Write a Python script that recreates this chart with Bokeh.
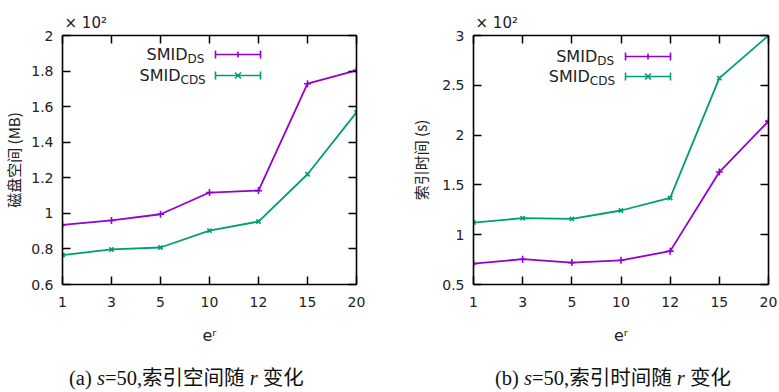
from bokeh.plotting import figure
from bokeh.models import (Range1d, FixedTicker, LinearAxis, Label, Arrow, TeeHead,
                          CustomJSTickFormatter, Title, Div)
from bokeh.layouts import row, column
from bokeh.embed import file_html
from bokeh.resources import INLINE

# ---------------- data ----------------
x_labels = ["1", "3", "5", "10", "12", "15", "20"]
space_ds = [0.935, 0.960, 0.995, 1.117, 1.128, 1.729, 1.804]
space_cds = [0.765, 0.797, 0.808, 0.903, 0.954, 1.220, 1.568]
time_ds = [0.710, 0.754, 0.720, 0.743, 0.835, 1.629, 2.140]
time_cds = [1.122, 1.166, 1.159, 1.243, 1.369, 2.572, 3.000]
space_ticks = [0.6, 0.8, 1.0, 1.2, 1.4, 1.6, 1.8, 2.0]
time_ticks = [0.5, 1.0, 1.5, 2.0, 2.5, 3.0]
series_names = [("SMID", "DS"), ("SMID", "CDS")]
captions = ['(a) <i>s</i>=50,索引空间随 <i>r</i> 变化',
            '(b) <i>s</i>=50,索引时间随 <i>r</i> 变化']

PURPLE = "#9400D3"
GREEN = "#009E73"
H = 356
TOP = 35
BOTTOM = 284
TICK_FONT = "DejaVu Sans"
CJK = "Noto Sans CJK SC"


class Panel:
    def __init__(self, bl):
        self.bl = bl
        self.p = None

    # screen units are relative to the frame's bottom-left corner
    def X(self, x):
        return x - self.bl

    def Y(self, y):
        return BOTTOM - y


def lab(P, x, y, text, size, align="left"):
    P.p.add_layout(Label(x=P.X(x), y=P.Y(y), x_units="screen", y_units="screen", text=text,
                         text_font=TICK_FONT, text_font_size=f"{size}px", text_align=align,
                         text_baseline="middle", text_color="#222222"))


def seg(P, x0, y0, x1, y1, color, heads=False, lw=1.6):
    kw = {}
    if heads:
        kw["start"] = TeeHead(size=8, line_color=color, line_width=lw)
        kw["end"] = TeeHead(size=8, line_color=color, line_width=lw)
    else:
        kw["end"] = None
    P.p.add_layout(Arrow(x_start=P.X(x0), y_start=P.Y(y0), x_end=P.X(x1), y_end=P.Y(y1),
                         start_units="screen", end_units="screen",
                         line_color=color, line_width=lw, **kw))


def panel(width, bl, br, y_start, y_end, ticks, ds, cds, ylabel, ylab_standoff, leg):
    P = Panel(bl)
    p = figure(width=width, height=H, output_backend="svg", toolbar_location=None,
               x_range=Range1d(0, len(x_labels) - 1), y_range=Range1d(y_start, y_end),
               min_border_left=bl, min_border_right=br, min_border_top=TOP,
               min_border_bottom=H - BOTTOM, background_fill_color="white",
               border_fill_color="white", outline_line_color=None)
    P.p = p
    p.grid.visible = False
    xt = FixedTicker(ticks=list(range(len(x_labels))))
    yt = FixedTicker(ticks=ticks)
    fmt_x = CustomJSTickFormatter(args=dict(labels=x_labels),
                                  code="return labels[Math.round(tick)];")
    fmt_y = CustomJSTickFormatter(code="return String(Number(tick.toFixed(2)));")
    blank = CustomJSTickFormatter(code="return '';")
    xa = p.below[0]
    ya = p.left[0]
    xa.ticker = xt
    xa.formatter = fmt_x
    ya.ticker = yt
    ya.formatter = fmt_y
    p.add_layout(LinearAxis(ticker=xt, formatter=blank), "above")
    p.add_layout(LinearAxis(ticker=yt, formatter=blank), "right")
    for ax in [xa, ya, p.above[0], p.right[0]]:
        ax.major_tick_in = 8
        ax.major_tick_out = 0
        ax.minor_tick_line_color = None
        ax.axis_line_width = 1.6
        ax.axis_line_color = "black"
        ax.major_tick_line_width = 1.5
        ax.major_tick_line_color = "black"
        ax.major_label_text_font = TICK_FONT
        ax.major_label_text_font_size = "14px"
        ax.major_label_text_color = "#222222"
    for ax in [p.above[0], p.right[0]]:
        ax.major_label_standoff = 0
    xa.major_label_standoff = 12
    xa.axis_label = "eʳ"
    xa.axis_label_text_font = TICK_FONT
    xa.axis_label_text_font_size = "16px"
    xa.axis_label_text_font_style = "normal"
    xa.axis_label_text_color = "#222222"
    xa.axis_label_standoff = 16
    ya.major_label_standoff = 9
    ya.axis_label = ylabel
    ya.axis_label_text_font = CJK
    ya.axis_label_text_font_size = "15px"
    ya.axis_label_text_font_style = "normal"
    ya.axis_label_text_color = "#222222"
    ya.axis_label_standoff = ylab_standoff

    p.add_layout(Title(text="× 10²", align="left", offset=2, text_font=TICK_FONT,
                       text_font_size="15px", text_font_style="normal",
                       text_color="#222222", standoff=7), "above")

    xs = list(range(len(x_labels)))
    p.line(xs, ds, line_color=PURPLE, line_width=1.8)
    p.scatter(xs, ds, marker="cross", size=7, line_color=PURPLE, line_width=1.6)
    p.line(xs, cds, line_color=GREEN, line_width=1.8)
    p.scatter(xs, cds, marker="x", size=6, line_color=GREEN, line_width=1.6)

    # legend (text with subscript, error-bar style sample)
    (mx1, mx2, sx0, sx1, ly1, ly2) = leg
    for (mx, yy, (main, sub), col, mk) in [(mx1, ly1, series_names[0], PURPLE, "+"),
                                          (mx2, ly2, series_names[1], GREEN, "x")]:
        lab(P, mx, yy, main, 16, align="right")
        lab(P, mx, yy + 4, sub, 12)
        seg(P, sx0, yy, sx1, yy, col, heads=True)
        cx = (sx0 + sx1) / 2
        if mk == "+":
            seg(P, cx, yy - 3, cx, yy + 3, col)
        else:
            seg(P, cx - 3, yy - 3, cx + 3, yy + 3, col)
            seg(P, cx - 3, yy + 3, cx + 3, yy - 3, col)
    return p


p1 = panel(390, 59, 34, 0.6, 2.0, space_ticks, space_ds, space_cds,
           "磁盘空间 (MB)", 4, (184, 177, 212, 257, 54, 75))
p2 = panel(388, 83, 10, 0.5, 3.0, time_ticks, time_ds, time_cds,
           "索引时间 (s)", 8, (206.7, 199.3, 235, 280, 56, 76))

span_style = ("position:absolute; top:6px; font-size:20.5px; line-height:22px; "
              "white-space:nowrap; color:#111; "
              "font-family:'Liberation Serif','Noto Sans CJK SC',serif;")
cap_html = (f'<div style="position:relative; width:778px; height:34px;">'
            f'<span style="{span_style} left:64px;">{captions[0]}</span>'
            f'<span style="{span_style} left:490px;">{captions[1]}</span></div>')
cap = Div(text=cap_html, width=778, height=34)

layout = column(row(p1, p2), cap)
open("out.html", "w").write(file_html(layout, INLINE))
